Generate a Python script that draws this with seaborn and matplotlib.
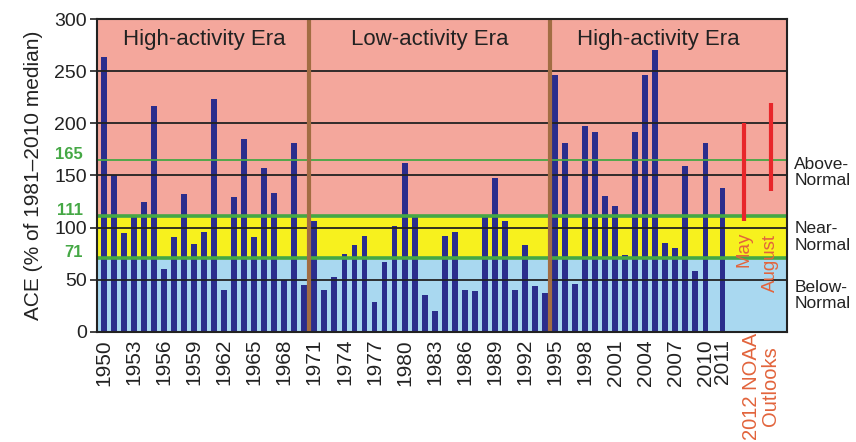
import numpy as np
import pandas as pd
import matplotlib
matplotlib.use("Agg")
import matplotlib.pyplot as plt
import seaborn as sns

# ACE per season, % of the 1981-2010 median
years = list(range(1950, 2012))
ace = [264, 150, 95, 110, 125, 217, 60, 91, 132, 84, 96, 223, 40, 129, 185, 91, 157, 133, 50, 181, 45,
       106, 40, 53, 75, 83, 92, 29, 67, 102, 162, 110, 35, 20, 92, 96, 40, 39, 110, 148, 106, 40, 83, 44, 37,
       246, 181, 46, 197, 192, 130, 121, 74, 192, 246, 270, 85, 80, 159, 58, 181, 138]

# 2012 NOAA outlook ranges
outlook_names = ["May", "August"]
outlook_low = [106, 135]
outlook_high = [200, 219]

# category thresholds
thresholds = [165, 111, 71]
eras = ["High-activity Era", "Low-activity Era", "High-activity Era"]
era_breaks = [1970.5, 1994.5]
tick_years = list(range(1950, 2011, 3)) + [2011]

sns.set_style("white")
plt.rcParams["font.family"] = ["Liberation Sans", "DejaVu Sans"]

navy = "#2b2d8c"
salmon = "#f4a79c"
yellow = "#f7f11e"
lightblue = "#a9d8f0"
green = "#45a845"
brown = "#a26d43"
red = "#e8262a"
orange = "#e2643c"


def xpos(y):
    # 2011 sits a little apart from the rest
    return y - 1950 + (0.7 if y == 2011 else 0)


df = pd.DataFrame({"year": years, "ace": ace})
df["x"] = [xpos(y) for y in df["year"]]

fig, ax = plt.subplots(figsize=(8.56, 4.42), dpi=100)
fig.subplots_adjust(left=0.113, right=0.919, top=0.957, bottom=0.249)

ax.axhspan(0, thresholds[2], color=lightblue, zorder=0)
ax.axhspan(thresholds[2], thresholds[1], color=yellow, zorder=0)
ax.axhspan(thresholds[1], 300, color=salmon, zorder=0)

sns.barplot(data=df, x="x", y="ace", native_scale=True, width=0.58,
            color=navy, saturation=1, edgecolor="none", ax=ax, zorder=2)

for v in range(50, 300, 50):
    ax.axhline(v, color="#222222", lw=1.3, zorder=3)
ax.axhline(thresholds[0], color=green, lw=1.3, zorder=4)
ax.axhline(thresholds[1], color=green, lw=2.6, zorder=4)
ax.axhline(thresholds[2], color=green, lw=2.6, zorder=4)

for b in era_breaks:
    ax.axvline(b - 1950, color=brown, lw=3, zorder=5)

out_x = [63.8, 66.5]
ax.vlines(out_x, outlook_low, outlook_high, color=red, lw=3, zorder=5)
ax.text(out_x[0], 79, outlook_names[0], rotation=90, ha="center", va="center",
        color=orange, fontsize=13.5, zorder=6)
ax.text(out_x[1], 66, outlook_names[1], rotation=90, ha="center", va="center",
        color=orange, fontsize=13.5, zorder=6)

era_x = [10, 32.5, 55.3]
for name, xx in zip(eras, era_x):
    ax.text(xx, 280, name, ha="center", va="center", fontsize=16, color="#222222", zorder=6)

ax.set_xlim(-0.7, 68.1)
ax.set_ylim(0, 300)
ax.set_xticks([xpos(y) for y in tick_years])
ax.set_xticklabels([str(y) for y in tick_years], rotation=90, fontsize=15, color="#222222")
ax.set_yticks(range(0, 301, 50))
ax.set_yticklabels([str(v) for v in range(0, 301, 50)], fontsize=14, color="#222222")
ax.tick_params(axis="x", length=0, pad=5)
ax.tick_params(axis="y", length=5, width=1.2, color="#222222", left=True, pad=2)
ax.set_xlabel("")
ax.set_ylabel("ACE (% of 1981\u20132010 median)", fontsize=15, color="#222222", labelpad=8)
for s in ax.spines.values():
    s.set_color("#222222")
    s.set_linewidth(1.5)
    s.set_zorder(7)

for t in thresholds:
    ax.text(-0.02, t + 5, str(t), transform=ax.get_yaxis_transform(), ha="right", va="center",
            color=green, fontsize=12, fontweight="bold")

right_labels = ["Above-\nNormal", "Near-\nNormal", "Below-\nNormal"]
right_y = [153, 91, 35]
for lab, yy in zip(right_labels, right_y):
    ax.text(1.011, yy, lab, transform=ax.get_yaxis_transform(), ha="left", va="center",
            fontsize=12.5, color="#222222", linespacing=1.1)

fig.text(761 / 856, 1 - 333 / 442, "2012 NOAA\nOutlooks", rotation=90, ha="center", va="top",
         color=orange, fontsize=14.5, multialignment="center", linespacing=1.0)

fig.savefig("out.png", dpi=100)
